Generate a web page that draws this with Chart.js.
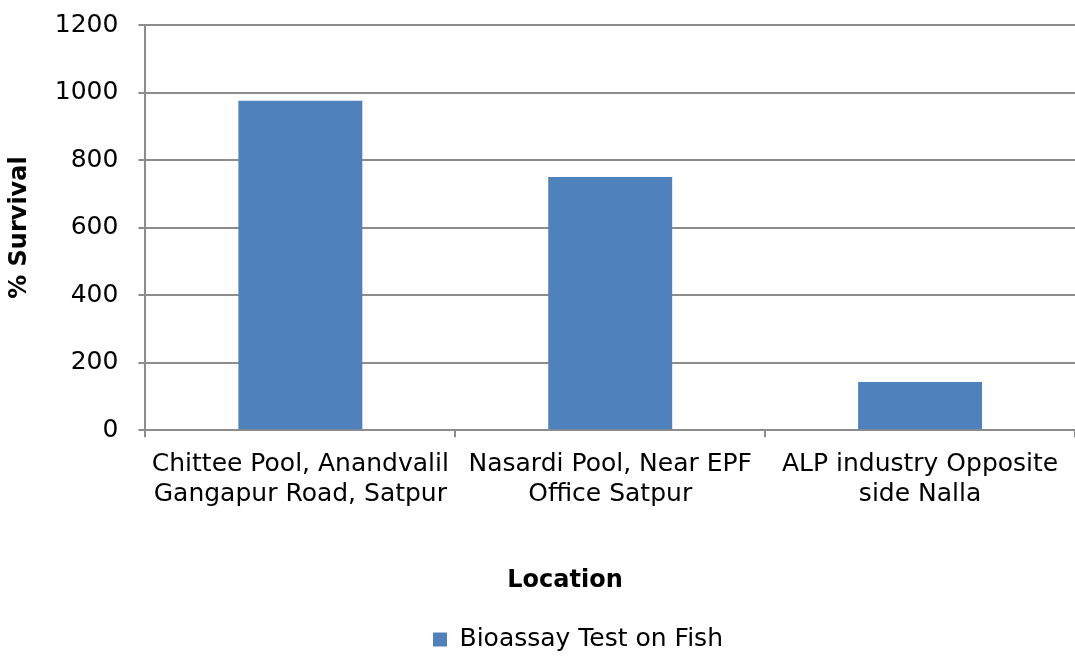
<!DOCTYPE html>
<html>
<head>
<meta charset="utf-8">
<script src="https://cdn.jsdelivr.net/npm/chart.js@4/dist/chart.umd.min.js"></script>
<style>
  html, body { margin: 0; padding: 0; background: #fff; }
  #chart { display: block; }
</style>
</head>
<body>
<canvas id="chart" width="1075" height="656"></canvas>
<script>
const LOCATIONS = [
  ["Chittee Pool, Anandvalil", "Gangapur Road, Satpur"],
  ["Nasardi Pool, Near EPF", "Office Satpur"],
  ["ALP industry Opposite", "side Nalla"]
];
const SURVIVAL = [976, 750, 143];
const SERIES_NAME = "Bioassay Test on Fish";
const Y_MAX = 1200;
const Y_STEP = 200;

const FONT = "'DejaVu Sans', Verdana, sans-serif";
const GRID = "#8c8c8c";

// the title and legend sit a bit off the canvas centre in the original
const nudgeBottomBoxes = {
  id: "nudgeBottomBoxes",
  afterLayout(chart) {
    const shift = (box, dx) => {
      if (!box) return;
      box.left += dx;
      box.right += dx;
    };
    shift(chart.titleBlock, 25);
    shift(chart.legend, 38);
  }
};

new Chart(document.getElementById("chart"), {
  type: "bar",
  data: {
    labels: LOCATIONS,
    datasets: [{
      label: SERIES_NAME,
      data: SURVIVAL,
      backgroundColor: "#4f81bd",
      barPercentage: 0.4,
      categoryPercentage: 1
    }]
  },
  plugins: [nudgeBottomBoxes],
  options: {
    responsive: false,
    animation: false,
    layout: { padding: { top: 25, right: 0, left: 5, bottom: -6 } },
    plugins: {
      tooltip: { enabled: false },
      title: {
        display: true,
        position: "bottom",
        weight: 500,
        text: "Location",
        color: "#000",
        font: { family: FONT, size: 24, weight: "bold" },
        padding: { top: 45, bottom: 32 }
      },
      legend: {
        position: "bottom",
        labels: {
          color: "#000",
          font: { family: FONT, size: 25 },
          boxWidth: 14,
          boxHeight: 14,
          padding: 0
        }
      }
    },
    scales: {
      x: {
        grid: {
          offset: true,
          drawOnChartArea: false,
          color: GRID,
          lineWidth: 2,
          tickLength: 7
        },
        border: { color: GRID, width: 2 },
        ticks: {
          color: "#000",
          font: { family: FONT, size: 25 },
          maxRotation: 0,
          autoSkip: false,
          padding: 12
        }
      },
      y: {
        min: 0,
        max: Y_MAX,
        // let the layout padding alone decide where the plot starts
        afterFit: scale => { scale.paddingTop = 0; },
        grid: { color: GRID, lineWidth: 2, tickLength: 7 },
        border: { color: GRID, width: 2 },
        ticks: {
          stepSize: Y_STEP,
          color: "#000",
          font: { family: FONT, size: 25 },
          padding: 20,
          callback: v => String(v)
        },
        title: {
          display: true,
          text: "% Survival",
          color: "#000",
          font: { family: FONT, size: 24, weight: "bold" },
          padding: { top: 0, bottom: 1 }
        }
      }
    }
  }
});
</script>
</body>
</html>
